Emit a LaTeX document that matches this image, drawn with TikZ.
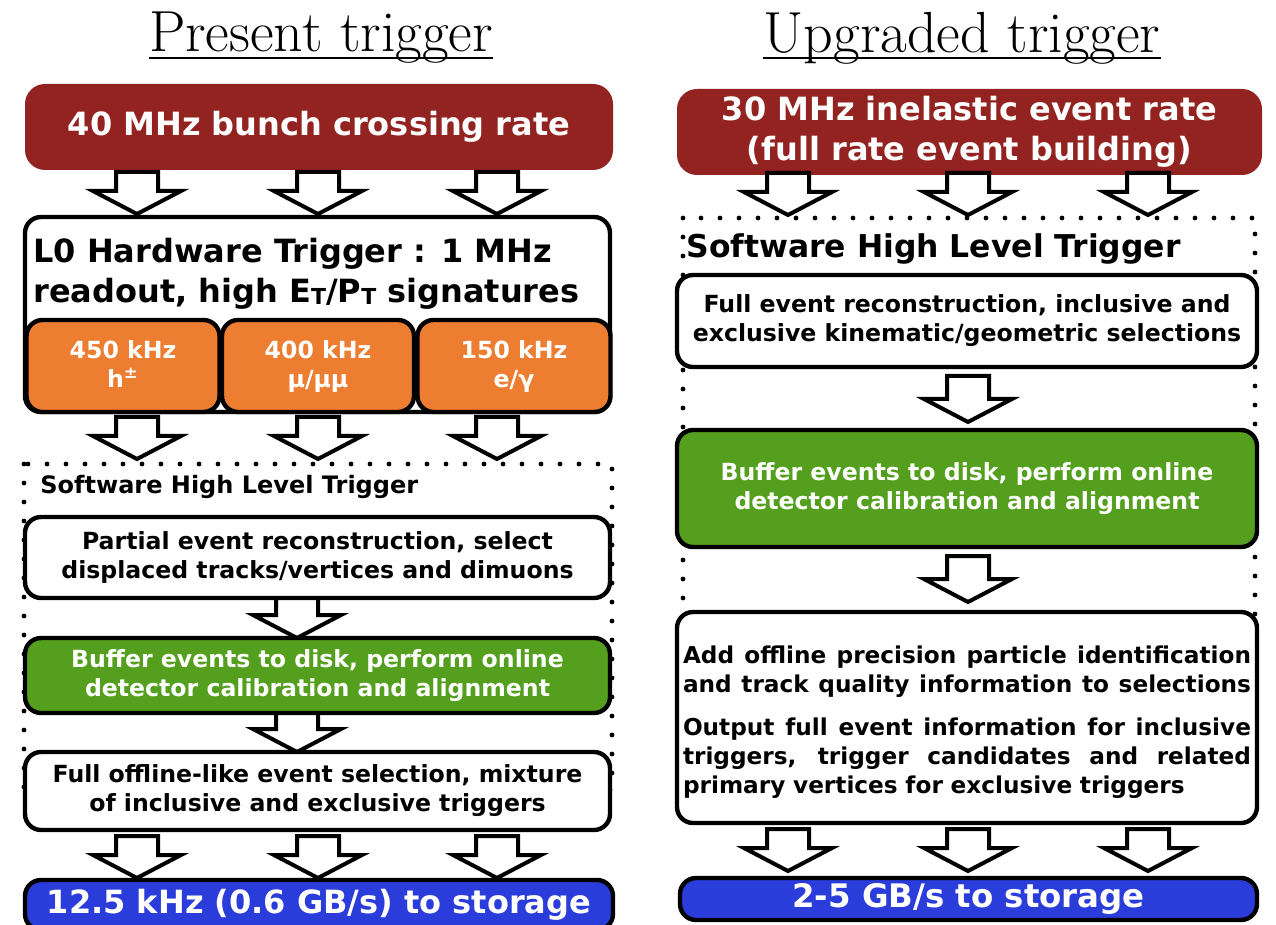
\documentclass[tikz,border=0pt]{standalone}
\usepackage{fontspec}
\newfontfamily\boxfont{DejaVu Sans}
\usetikzlibrary{positioning, calc}

\definecolor{ratered}{RGB}{146,35,32}
\definecolor{l0orange}{RGB}{237,125,49}
\definecolor{buffgreen}{RGB}{84,160,30}
\definecolor{storeblue}{RGB}{42,60,218}

\newcommand{\fullline}[1]{{\spaceskip=0.33em plus 2em minus 0.1em\makebox[284pt][s]{#1}}}
\newcommand{\smallT}{{\fontsize{11}{11}\selectfont\raisebox{-1pt}{T}}}

\tikzset{
	pics/down_arrow/.style = {code={
		\draw[line width=2pt, fill=white, miter limit=6] (-21,0) -- (-21,{#1-23}) -- (-44,{#1-23}) -- (0,#1) -- (44,{#1-23}) -- (21,{#1-23}) -- (21,0) -- cycle;
	}},
	pics/down_arrow/.default = 42
}

\begin{document}
\begin{tikzpicture}[
		x=0.5pt, y=-0.5pt,
		% --- box styles ---
		trig_box/.style = {draw=black, line width=2.2pt, rounded corners=8pt, align=center, inner sep=0pt, font=\boxfont\bfseries\fontsize{11.8}{14.5}\selectfont},
		white_box/.style = {trig_box, fill=white},
		buffer_box/.style = {trig_box, fill=buffgreen, text=white},
		l0_box/.style = {trig_box, fill=l0orange, text=white},
		rate_box/.style = {fill=ratered, rounded corners=10pt, text=white, align=center, inner sep=0pt, font=\boxfont\bfseries\fontsize{16}{20}\selectfont},
		store_box/.style = {trig_box, fill=storeblue, text=white, font=\boxfont\bfseries\fontsize{16}{18}\selectfont},
		% --- frame and title styles ---
		hlt_frame/.style = {line width=2.4pt, dash pattern=on 0pt off 9.5pt, line cap=round},
		hlt_title/.style = {anchor=west, inner sep=0pt, font=\boxfont\bfseries\fontsize{12}{14}\selectfont},
		col_title/.style = {inner sep=0pt, font=\fontsize{29}{32}\selectfont},
		title_rule/.style = {line width=0.8pt}
	]
	\useasboundingbox (0,0) rectangle (1276,925);
	
	% =====================================================
	% Present trigger (left)
	% =====================================================
	\node[col_title] (title_present) at (321,38) {Present trigger};
	\draw[title_rule] ([yshift=-3pt]title_present.base west) -- ([yshift=-3pt]title_present.base east);
	
	\node[rate_box, minimum width=294pt, minimum height=43pt] (rate40) at (319,127) {40 MHz bunch crossing rate};
	
	\foreach \xa in {137,318,497}
		\pic at (\xa,172) {down_arrow};
	
	% L0 hardware trigger
	\node[white_box, minimum width=292.5pt, minimum height=97.5pt] (l0) at (317.5,314.5) {};
	\node[anchor=north west, align=left, inner sep=0pt, font=\boxfont\bfseries\fontsize{16}{20}\selectfont] (l0_text) at (33,238) {L0 Hardware Trigger : 1 MHz\\readout, high E\smallT/P\smallT{} signatures};
	\node[l0_box, minimum width=96.5pt, minimum height=46pt] (l0_had) at (123,366) {};
	\node[l0_box, minimum width=96pt, minimum height=46pt] (l0_muon) at (318,366) {};
	\node[l0_box, minimum width=96.5pt, minimum height=46pt] (l0_ele) at (514,366) {};
	\node[l0_box, draw=none, fill=none] at ([yshift=-1pt]l0_had.center) {450 kHz\\h\textsuperscript{±}\strut};
	\node[l0_box, draw=none, fill=none] at ([yshift=-1pt]l0_muon.center) {400 kHz\\μ/μμ\strut};
	\node[l0_box, draw=none, fill=none] at ([yshift=-1pt]l0_ele.center) {150 kHz\\e/γ\strut};
	
	\foreach \xa in {137,318,497}
		\pic at (\xa,417) {down_arrow};
	
	% software HLT
	\draw[hlt_frame] (24,464) rectangle (612,790);
	\node[hlt_title] (hlt_left) at (40,487) {Software High Level Trigger};
	\node[white_box, minimum width=292.5pt, minimum height=40.5pt] (partial) at (317.5,557.5) {Partial event reconstruction, select\\displaced tracks/vertices and dimuons};
	\pic at (297,598) {down_arrow=40};
	\node[buffer_box, minimum width=292.5pt, minimum height=37.5pt] (buffer_left) at (317.5,675.5) {Buffer events to disk, perform online\\detector calibration and alignment};
	\pic at (297,713) {down_arrow=39};
	\node[white_box, minimum width=292.5pt, minimum height=39pt] (offline_sel) at (317.5,791) {Full offline-like event selection, mixture\\of inclusive and exclusive triggers};
	
	\foreach \xa in {137,318,497}
		\pic at (\xa,836) {down_arrow};
	
	\node[store_box, minimum width=294pt, minimum height=25pt] (store_left) at (319,905) {12.5 kHz (0.6 GB/s) to storage};
	
	% =====================================================
	% Upgraded trigger (right)
	% =====================================================
	\node[col_title] (title_upgraded) at (962,38) {Upgraded trigger};
	\draw[title_rule] ([yshift=-3pt]title_upgraded.base west) -- ([yshift=-3pt]title_upgraded.base east);
	
	\node[rate_box, minimum width=292.5pt, minimum height=43pt] (rate30) at (969.5,132) {30 MHz inelastic event rate\\(full rate event building)};
	
	\foreach \xa in {788,968,1148}
		\pic at (\xa,173) {down_arrow};
	
	% software HLT
	\draw[hlt_frame] (683,218) rectangle (1255,700);
	\node[hlt_title, font=\boxfont\bfseries\fontsize{15.7}{18}\selectfont] (hlt_right) at (686,249) {Software High Level Trigger};
	\node[white_box, minimum width=290pt, minimum height=46pt] (full_reco) at (967,321) {Full event reconstruction, inclusive and\\exclusive kinematic/geometric selections};
	\pic at (968,376) {down_arrow=46};
	\node[buffer_box, minimum width=290pt, minimum height=58.5pt] (buffer_right) at (967,488.5) {Buffer events to disk, perform online\\detector calibration and alignment};
	\pic at (968,556) {down_arrow=46};
	\node[white_box, minimum width=290pt, minimum height=105.5pt] (offline_pid) at (967,717.5) {};
	\node[text width=284pt, align=left, inner sep=0pt, font=\boxfont\bfseries\fontsize{11.6}{14.5}\selectfont] (offline_pid_text) at ([yshift=-3.5pt]offline_pid.center) {\fullline{Add offline precision particle identification}\\
		\fullline{and track quality information to selections}\\[7pt]
		\fullline{Output full event information for inclusive}\\
		\fullline{triggers, trigger candidates and related}\\
		primary vertices for exclusive triggers\strut};
	
	\foreach \xa in {788,968,1148}
		\pic at (\xa,829) {down_arrow};
	
	\node[store_box, minimum width=288.5pt, minimum height=21pt, font=\boxfont\bfseries\fontsize{16.2}{18}\selectfont] (store_right) at (968.5,899) {2-5 GB/s to storage};
	
\end{tikzpicture}
\end{document}
